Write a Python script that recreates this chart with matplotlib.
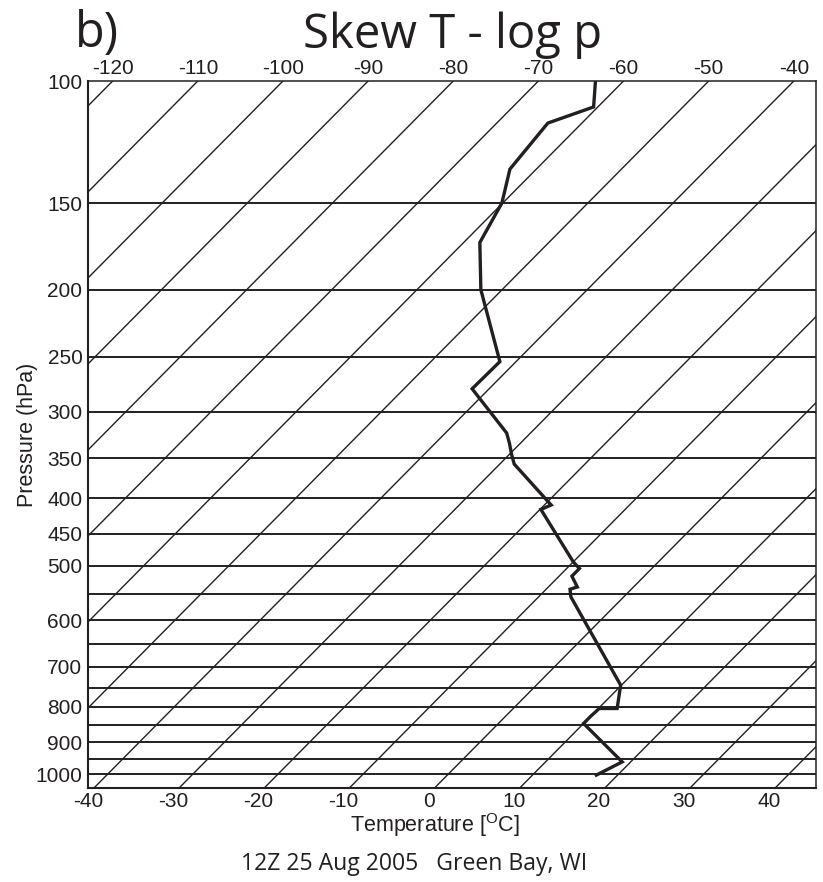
import numpy as np
import matplotlib
matplotlib.use("Agg")
import matplotlib.pyplot as plt

plt.rcParams.update({'font.family': 'Liberation Sans',
                     'mathtext.fontset': 'custom',
                     'mathtext.rm': 'Liberation Sans'})

INK = '#231f20'

# sounding (hPa, degC)
pres = [100, 109, 115, 134, 150, 171, 200, 254, 278, 322, 333, 346, 357,
        409, 415, 494, 505, 518, 537, 541, 555, 744, 804, 804, 825, 845,
        960, 1003]
temp = [-63.3, -60.5, -64.0, -63.1, -60.1, -58.1, -52.5, -41.9, -42.0,
        -32.8, -31.3, -29.7, -28.3, -19.2, -19.9, -10.0, -8.5, -8.5, -6.6,
        -7.2, -6.2, 9.9, 12.2, 10.1, 10.0, 10.0, 19.0, 17.5]

isobars = [150, 200, 250, 300, 350, 400, 450, 500, 550, 600, 650, 700,
           750, 800, 850, 900, 950, 1000]
p_labels = [100, 150, 200, 250, 300, 350, 400, 450, 500, 600, 700, 800,
            900, 1000]
isotherms = list(range(-120, 60, 10))
bottom_temps = list(range(-40, 50, 10))
top_temps = list(range(-120, -30, 10))

P_BOT, P_TOP = 1047, 100
K = 35.0  # skew, degC per ln(p)


def skew(t, p):
    return np.asarray(t) + K * np.log(P_BOT / np.asarray(p, dtype=float))


fig = plt.figure(figsize=(8.23, 8.82), dpi=100)
ax = fig.add_axes([88 / 823, 1 - 788 / 882, 728 / 823, 707 / 882])
ax.set_yscale('log')
ax.set_xlim(-40.2, 44.8)
ax.set_ylim(P_BOT, P_TOP)

# isobars
for p in isobars:
    ax.axhline(p, color=INK, lw=1.4, zorder=1)

# skewed isotherms
pp = np.geomspace(P_BOT, P_TOP, 50)
for t0 in isotherms:
    ax.plot(skew(t0, pp), pp, color=INK, lw=1.0, zorder=1)

# temperature profile
ax.plot(skew(temp, pres), pres, color=INK, lw=2.4, zorder=3,
        solid_joinstyle='miter')

ax.yaxis.set_minor_locator(matplotlib.ticker.NullLocator())
ax.set_yticks(p_labels)
ax.set_yticklabels([str(p) for p in p_labels])
ax.set_xticks(np.array(bottom_temps) - 0.7)
ax.set_xticklabels([str(t) for t in bottom_temps])
ax.tick_params(length=0, labelsize=15, colors=INK, pad=4)
ax.tick_params(axis='x', pad=3)

shift = K * np.log(P_BOT / P_TOP)
top = ax.secondary_xaxis('top', functions=(lambda x: x - shift,
                                           lambda x: x + shift))
top.set_xticks(top_temps)
top.set_xticklabels([str(t) for t in top_temps])
top.tick_params(length=0, labelsize=15, colors=INK, pad=2)
top.spines['top'].set_visible(False)

for s in ax.spines.values():
    s.set_color(INK)
    s.set_linewidth(1.5)
for s in ['top', 'right']:
    ax.spines[s].set_linewidth(1.1)

ax.set_xlabel('Temperature [$^{\\mathrm{O}}$C]', fontsize=15.5, color=INK,
              labelpad=0)
ax.xaxis.set_label_coords(0.477, -0.033)
ax.set_ylabel('Pressure (hPa)', fontsize=15.5, color=INK, labelpad=-2)

fig.text(97 / 823, 1 - 47 / 882, 'b)', fontsize=35, family='Open Sans',
         color=INK, ha='center', va='baseline')
fig.text(453 / 823, 1 - 48 / 882, 'Skew T - log p', fontsize=34,
         family='Open Sans', color=INK, ha='center', va='baseline')
fig.text(414 / 823, 1 - 870 / 882, '12Z 25 Aug 2005   Green Bay, WI',
         fontsize=16.6, family='Open Sans', color=INK, ha='center',
         va='baseline')

fig.savefig('out.png', dpi=100)
